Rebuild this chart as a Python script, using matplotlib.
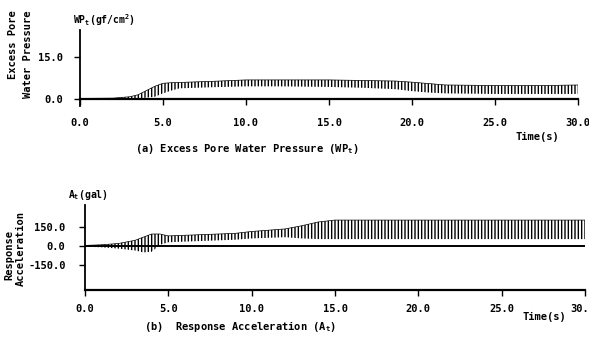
import matplotlib
matplotlib.use("Agg")
import matplotlib.pyplot as plt
import matplotlib.transforms as mtransforms

plt.rcParams['font.family'] = ['DejaVu Sans Mono']
plt.rcParams['font.weight'] = 'bold'
plt.rcParams['mathtext.fontset'] = 'custom'
plt.rcParams['mathtext.rm'] = 'DejaVu Sans Mono:bold'
plt.rcParams['mathtext.it'] = 'DejaVu Sans Mono:bold'
plt.rcParams['hatch.linewidth'] = 1.0

# (a) excess pore water pressure, envelope of the oscillation (gf/cm2)
wp_t = [0, 2, 3, 3.5, 4, 4.5, 5, 5.5, 6, 8, 10, 12, 15, 17, 19, 20, 21, 22, 25, 28, 30]
wp_hi = [0.2, 0.3, 0.8, 1.5, 3.0, 4.5, 5.6, 5.8, 5.9, 6.3, 6.8, 6.8, 6.8, 6.6, 6.4, 6.0, 5.5, 5.0, 4.8, 4.8, 5.0]
wp_lo = [-0.1, -0.1, 0.0, 0.2, 0.5, 0.8, 2.0, 3.0, 3.8, 4.2, 4.5, 4.5, 4.3, 4.0, 3.5, 2.8, 2.3, 2.0, 1.8, 1.8, 1.8]

# (b) response acceleration, envelope of the oscillation (gal)
ac_t = [0, 1, 2, 3, 3.5, 4, 4.5, 5, 6, 7, 8, 9, 10, 11, 12, 13, 14, 15, 18, 21, 24, 27, 30]
ac_hi = [5, 10, 20, 45, 70, 95, 95, 80, 85, 90, 95, 100, 115, 125, 135, 160, 190, 205, 205, 205, 205, 205, 205]
ac_lo = [-5, -10, -20, -35, -50, -45, 10, 30, 35, 40, 45, 50, 60, 65, 70, 60, 55, 55, 55, 55, 55, 55, 55]

xticks = [0, 5, 10, 15, 20, 25, 30]
xlabels_a = ['0.0', '5.0', '10.0', '15.0', '20.0', '25.0', '30.0']
xlabels_b = ['0.0', '5.0', '10.0', '15.0', '20.0', '25.0', '30.']

fig = plt.figure(figsize=(5.89, 3.47), dpi=100)
W, H = 589.0, 347.0

def px(x, y):
    return x / W, 1 - y / H

# ---- panel (a)
ax1 = fig.add_axes([80 / W, 1 - 106 / H, 498 / W, 76 / H])
ax1.fill_between(wp_t, wp_lo, wp_hi, facecolor='none', edgecolor='black', hatch='|||||', linewidth=0)
ax1.plot(wp_t, wp_hi, color='black', lw=0.5)
ax1.set_xlim(0, 30)
ax1.set_ylim(-2.5, 24.6)
ax1.spines['top'].set_visible(False)
ax1.spines['right'].set_visible(False)
ax1.spines['bottom'].set_position(('data', 0))
ax1.spines['left'].set_linewidth(1.3)
ax1.spines['bottom'].set_linewidth(1.6)
ax1.set_yticks([0, 15])
ax1.set_yticklabels(['0.0', '15.0'])
ax1.set_xticks(xticks)
ax1.set_xticklabels(xlabels_a)
ax1.tick_params(axis='y', direction='out', length=4, width=1, pad=8, labelsize=7.5)
ax1.tick_params(axis='x', direction='out', length=4, width=1, pad=10, labelsize=7.5)

fig.text(*px(73, 20), r'WP$_\mathrm{t}$(gf/cm$^\mathrm{2}$)', fontsize=7, va='center', ha='left')
fig.text(*px(13, 10), 'Excess Pore', rotation=90, fontsize=7.5, va='top', ha='center')
fig.text(*px(28, 10), 'Water Pressure', rotation=90, fontsize=7.5, va='top', ha='center')
fig.text(*px(537, 137), 'Time(s)', fontsize=7.5, va='center', ha='center')
fig.text(*px(247, 149), r'(a) Excess Pore Water Pressure (WP$_\mathrm{t}$)', fontsize=7.5, va='center', ha='center')

# ---- panel (b)
ax2 = fig.add_axes([85 / W, 1 - 290 / H, 500 / W, 85 / H])
ax2.fill_between(ac_t, ac_lo, ac_hi, facecolor='none', edgecolor='black', hatch='|||||', linewidth=0)
ax2.plot(ac_t, ac_hi, color='black', lw=0.5)
ax2.axhline(0, color='black', lw=1.4)
ax2.set_xlim(0, 30)
ax2.set_ylim(-347, 324)
ax2.spines['top'].set_visible(False)
ax2.spines['right'].set_visible(False)
ax2.spines['left'].set_linewidth(1.3)
ax2.spines['bottom'].set_linewidth(1.6)
ax2.set_yticks([-150, 0, 150])
ax2.set_yticklabels(['-150.0', '0.0', '150.0'])
ax2.set_xticks(xticks)
ax2.set_xticklabels(xlabels_b)
ax2.tick_params(axis='y', direction='out', length=4, width=1, pad=10, labelsize=7.5)
ax2.tick_params(axis='x', direction='out', length=4, width=1, pad=6, labelsize=7.5)
# last label sits at the right edge of the page
last = ax2.get_xticklabels()[-1]
last.set_horizontalalignment('right')
last.set_transform(last.get_transform() + mtransforms.ScaledTranslation(4 / 100, 0, fig.dpi_scale_trans))

fig.text(*px(68, 195), r'A$_\mathrm{t}$(gal)', fontsize=7, va='center', ha='left')
fig.text(*px(9, 255), 'Response', rotation=90, fontsize=7.5, va='center', ha='center')
fig.text(*px(21, 248), 'Acceleration', rotation=90, fontsize=7.5, va='center', ha='center')
fig.text(*px(544, 317), 'Time(s)', fontsize=7.5, va='center', ha='center')
fig.text(*px(240, 326), r'(b)  Response Acceleration (A$_\mathrm{t}$)', fontsize=7.5, va='center', ha='center')

fig.savefig('out.png', dpi=100, facecolor='white')
